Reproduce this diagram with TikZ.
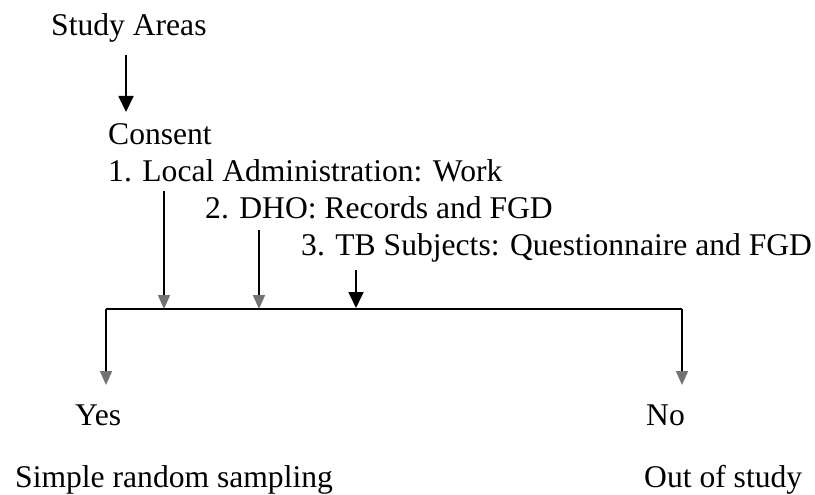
\documentclass[tikz,border=0pt]{standalone}
\usepackage{fontspec}
\setmainfont{Liberation Serif}
\usetikzlibrary{arrows.meta}
\begin{document}
\begin{tikzpicture}[x=1pt,y=-1pt,
  lbl/.style={anchor=base west,inner sep=0pt,font=\fontsize{31.6}{36}\selectfont},
  conn/.style={line width=1.8pt,line join=miter},
  solidhead/.style={-{Triangle[length=16pt,width=15pt]}},
  fainthead/.style={-{Triangle[length=14pt,width=12pt,color=black!55]}}]
\useasboundingbox (0,0) rectangle (815,495);
% texts
\node[lbl] (study) at (51,36) {Study Areas};
\node[lbl] (consent) at (108,145) {Consent};
\node[lbl] (local) at (108,182) {1. Local Administration: Work};
\node[lbl] (dho) at (205,218) {2. DHO: Records and FGD};
\node[lbl] (tb) at (301,255) {3. TB Subjects: Questionnaire and FGD};
\node[lbl] (yes) at (75,425) {Yes};
\node[lbl] (no) at (646,425) {No};
\node[lbl] (srs) at (15,487) {Simple random sampling};
\node[lbl] (out) at (644,487) {Out of study};
% connector points
\coordinate (a0s) at (126,55);
\coordinate (a0e) at (126,112);
\coordinate (a1s) at (164,191);
\coordinate (a1e) at (164,309);
\coordinate (a2s) at (259,230);
\coordinate (a2e) at (259,309);
\coordinate (a3s) at (356,270);
\coordinate (a3e) at (356,308);
\coordinate (hl) at (106,309);
\coordinate (hr) at (682,309);
\coordinate (yt) at (106,385);
\coordinate (nt) at (682,385);
% connectors
\draw[conn,solidhead] (a0s) -- (a0e);
\draw[conn,fainthead] (a1s) -- (a1e);
\draw[conn,fainthead] (a2s) -- (a2e);
\draw[conn,solidhead] (a3s) -- (a3e);
\draw[conn] (hl) -- (hr);
\draw[conn,fainthead] (hl) -- (yt);
\draw[conn,fainthead] (hr) -- (nt);
\end{tikzpicture}
\end{document}
